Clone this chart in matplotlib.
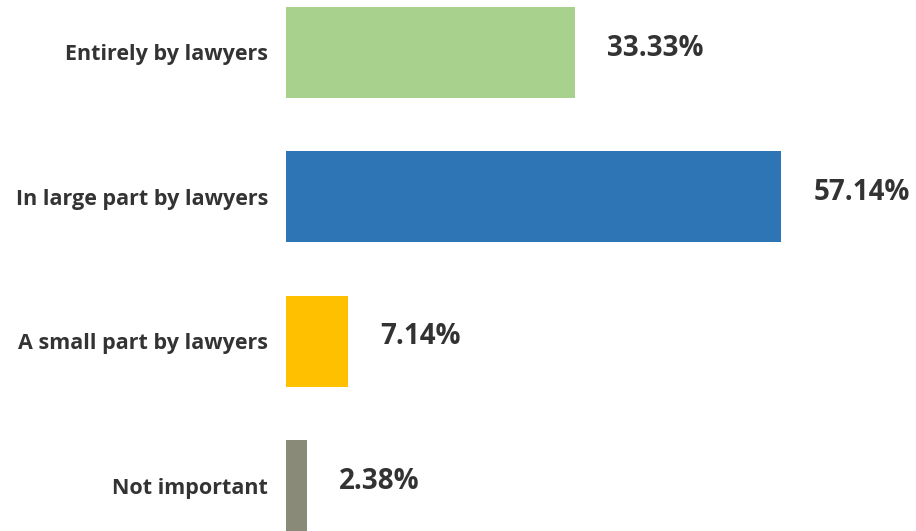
import matplotlib.pyplot as plt
import numpy as np

categories = ['Entirely by lawyers', 'In large part by lawyers',
              'A small part by lawyers', 'Not important']
values = [33.33, 57.14, 7.14, 2.38]
colors = ['#A9D18E', '#2E75B6', '#FFC000', '#8A8A78']

plt.rcParams['font.family'] = ['Open Sans', 'DejaVu Sans']
text_color = '#333333'

fig = plt.figure(figsize=(9.16, 5.31), dpi=100)
ax = fig.add_axes([286 / 916, 0, 630 / 916, 1])

y = np.arange(len(categories))
ax.barh(y, values, height=0.63, color=colors)

for yi, v in zip(y, values):
    ax.annotate('%.2f%%' % v, xy=(v, yi), xytext=(23, 3), textcoords='offset points',
                ha='left', va='center', fontsize=20, fontweight='bold', color=text_color)

ax.set_xlim(0, 72.66)
ax.set_ylim(3.315, -0.362)
ax.set_yticks(y)
ax.set_yticklabels(categories, fontsize=15.5, fontweight='bold', color=text_color)
ax.tick_params(axis='y', length=0, pad=13)
ax.set_xticks([])
for s in ax.spines.values():
    s.set_visible(False)

plt.savefig('out.png', dpi=100)
